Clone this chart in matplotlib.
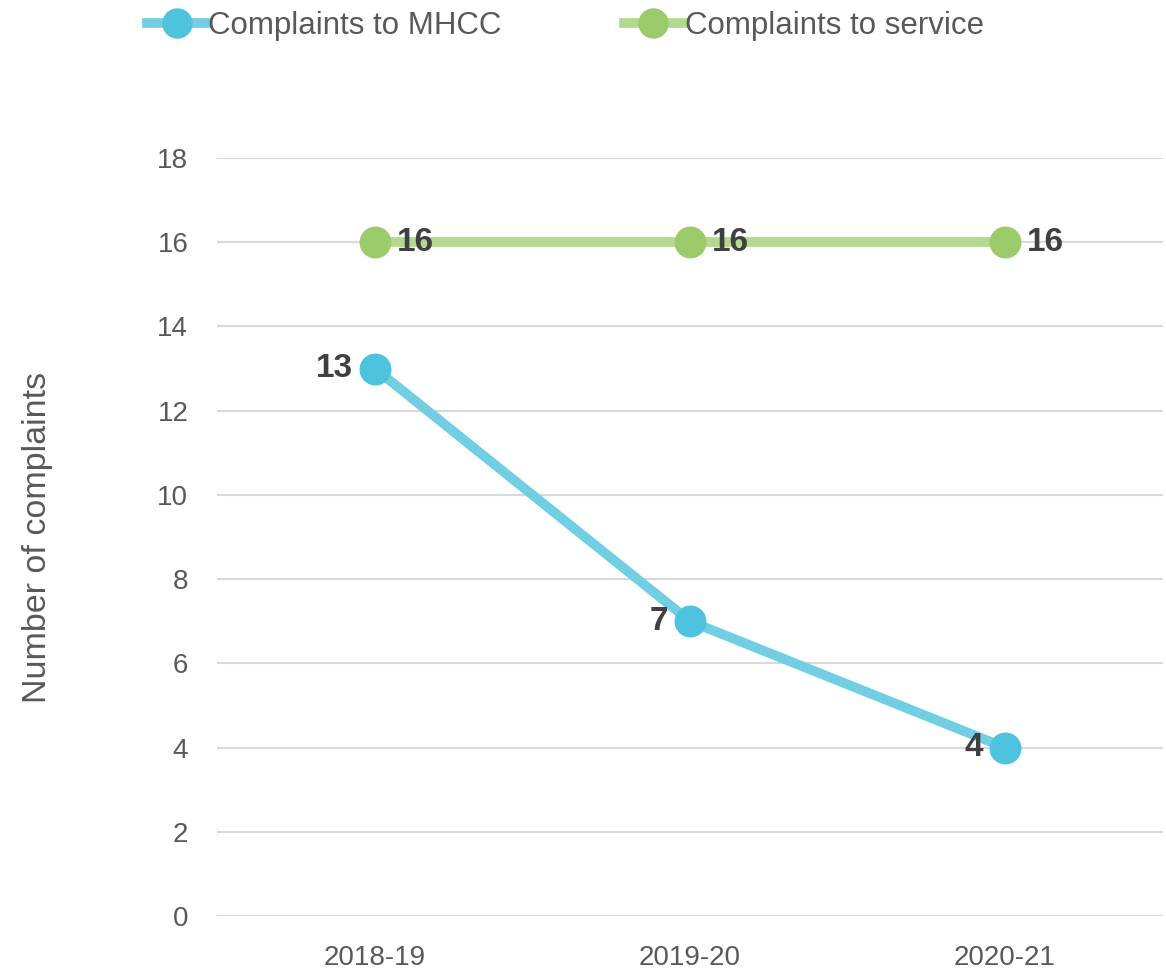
import matplotlib.pyplot as plt
from matplotlib import font_manager

# Datos
years = ["2018-19", "2019-20", "2020-21"]
mhcc = [13, 7, 4]
service = [16, 16, 16]

names = {f.name for f in font_manager.fontManager.ttflist}
fam = "Liberation Sans Narrow" if "Liberation Sans Narrow" in names else "Liberation Sans"
plt.rcParams['font.family'] = [fam, 'DejaVu Sans']

fig = plt.figure(figsize=(11.66, 9.73), dpi=100)
ax = fig.add_axes([0.1865, 0.0586, 0.8105, 0.779])

x = range(len(years))
ax.plot(x, mhcc, color="#72CEE3", lw=7, marker="o", markersize=22,
        markerfacecolor="#4DC3DE", markeredgecolor="#4DC3DE", label="Complaints to MHCC", zorder=3)
ax.plot(x, service, color="#B3D98E", lw=7, marker="o", markersize=22,
        markerfacecolor="#9BCB6A", markeredgecolor="#9BCB6A", label="Complaints to service", zorder=3)

# Etiquetas de datos
for i, v in enumerate(mhcc):
    ax.annotate(str(v), (i, v), xytext=(-16, 0), textcoords="offset points",
                ha="right", va="center", fontsize=24, fontweight="bold", color="#404040",
                family=["Liberation Sans", "DejaVu Sans"], zorder=4)
for i, v in enumerate(service):
    ax.annotate(str(v), (i, v), xytext=(16, 0), textcoords="offset points",
                ha="left", va="center", fontsize=24, fontweight="bold", color="#404040",
                family=["Liberation Sans", "DejaVu Sans"], zorder=4)

ax.set_xlim(-0.5, 2.5)
ax.set_ylim(0, 18)
ax.set_yticks(range(0, 19, 2))
ax.set_xticks(list(x))
ax.set_xticklabels(years)
ax.grid(axis="y", color="#D9D9D9", lw=1.5)
ax.set_axisbelow(True)
for s in ax.spines.values():
    s.set_visible(False)
ax.tick_params(length=0, labelsize=20, labelcolor="#595959")
ax.tick_params(axis="x", pad=21)
ax.tick_params(axis="y", pad=21)
ax.set_ylabel("Number of complaints", fontsize=24.5, color="#595959", labelpad=75)

fig.legend(loc="upper center", bbox_to_anchor=(0.485, 1.018), ncol=2, frameon=False,
           fontsize=22.5, labelcolor="#595959", handlelength=1.9, handletextpad=0.05,
           columnspacing=3.9, markerscale=0.95)

plt.savefig("out.png", dpi=100)
